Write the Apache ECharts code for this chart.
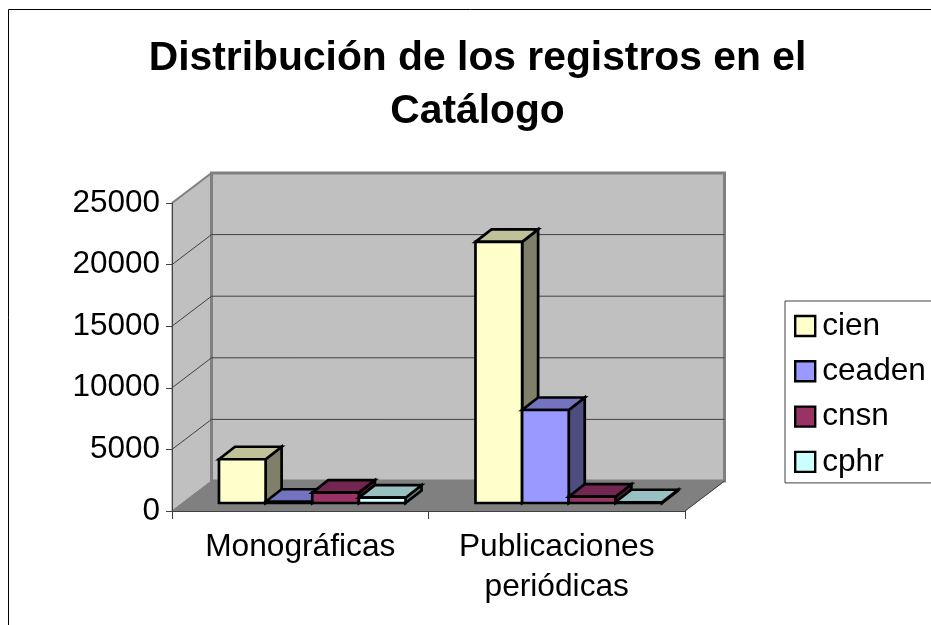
<!DOCTYPE html>
<html>
<head>
<meta charset="utf-8">
<title>Distribución de los registros en el Catálogo</title>
<script src="https://cdn.jsdelivr.net/npm/echarts@6/dist/echarts.min.js"></script>
<style>
  html, body { margin: 0; padding: 0; background: #fff; }
  #chart { width: 931px; height: 625px; }
</style>
</head>
<body>
<div id="chart"></div>
<script>
// Values
const categories = ['Monográficas', 'Publicaciones\nperiódicas'];
const cien = [3550, 21200];
const ceaden = [100, 7550];
const cnsn = [840, 510];
const cphr = [430, 60];
const yTicks = [5000, 10000, 15000, 20000, 25000];

const seriesNames = ['cien', 'ceaden', 'cnsn', 'cphr'];
const seriesValues = [cien, ceaden, cnsn, cphr];
// front, top and side face of each bar
const faces = [
  ['#FFFFCC', '#C0C099', '#80806A'],
  ['#9999FF', '#7373C0', '#4D4D80'],
  ['#993366', '#732650', '#4D1A33'],
  ['#CCFFFF', '#99C0C0', '#668080'],
];

const FONT = '"Liberation Sans", Arial, sans-serif';
const WALL_DX = 39.5, WALL_DY = -30;
const BAR_DX = 16, BAR_DY = -12.5;
const INSET_DX = 12, INSET_DY = -8;
const BAR_RATIO = 1 / 5.5;

const chart = echarts.init(document.getElementById('chart'));

function poly(points, fill, stroke, lineWidth) {
  return {
    type: 'polygon',
    shape: { points },
    style: { fill, stroke, lineWidth, lineJoin: 'miter' },
  };
}

function renderWalls(params, api) {
  const a = api.coord([0, 25000]);
  const o = api.coord([0, 0]);
  const band = api.size([1, 0])[0];
  const left = a[0] - band / 2;
  const right = left + band * categories.length;
  const top = a[1], base = o[1];
  const bx = left + WALL_DX, by = WALL_DY;
  return {
    type: 'group',
    children: [
      poly([[left, top], [bx, top + by], [bx, base + by], [left, base]], '#C0C0C0', '#808080', 1),
      poly([[bx, top + by], [right + WALL_DX, top + by], [right + WALL_DX, base + by], [bx, base + by]], '#C0C0C0', '#808080', 3),
      poly([[left, base], [bx, base + by], [right + WALL_DX, base + by], [right, base]], '#808080', '#808080', 1),
      { type: 'line', shape: { x1: left, y1: top, x2: bx, y2: top + by }, style: { stroke: '#808080', lineWidth: 2 } },
      { type: 'line', shape: { x1: right, y1: base, x2: right + WALL_DX, y2: base + by }, style: { stroke: '#404040', lineWidth: 1 } },
    ],
  };
}

function renderGridline(params, api) {
  const p = api.coord([0, api.value(1)]);
  const band = api.size([1, 0])[0];
  const left = p[0] - band / 2;
  const right = left + band * categories.length;
  const y = p[1];
  const isTop = api.value(1) === 25000;
  if (isTop) return { type: 'group', children: [] };
  return {
    type: 'polyline',
    shape: { points: [[left, y], [left + WALL_DX, y + WALL_DY], [right + WALL_DX, y + WALL_DY]] },
    style: { fill: null, stroke: '#404040', lineWidth: 1 },
  };
}

function makeBarRenderer(idx) {
  return function (params, api) {
    const cat = api.value(0);
    const top = api.coord([cat, api.value(1)]);
    const base = api.coord([cat, 0]);
    const band = api.size([1, 0])[0];
    const w = band * BAR_RATIO;
    const x0 = top[0] - 2 * w + INSET_DX + idx * w;
    const x1 = x0 + w;
    const y0 = base[1] + INSET_DY;
    const y1 = top[1] + INSET_DY;
    const c = faces[idx];
    return {
      type: 'group',
      children: [
        poly([[x1, y0], [x1 + BAR_DX, y0 + BAR_DY], [x1 + BAR_DX, y1 + BAR_DY], [x1, y1]], c[2], '#000', 2.7),
        poly([[x0, y1], [x0 + BAR_DX, y1 + BAR_DY], [x1 + BAR_DX, y1 + BAR_DY], [x1, y1]], c[1], '#000', 2.7),
        poly([[x0, y0], [x1, y0], [x1, y1], [x0, y1]], c[0], '#000', 2.7),
      ],
    };
  };
}

const barSeries = seriesNames.map((name, i) => ({
  name,
  type: 'custom',
  renderItem: makeBarRenderer(i),
  itemStyle: { color: faces[i][0] },
  encode: { x: 0, y: 1 },
  data: seriesValues[i].map((v, k) => [k, v]),
  z: 4,
}));

chart.setOption({
  backgroundColor: '#fff',
  animation: false,
  textStyle: { fontFamily: FONT },
  title: {
    text: 'Distribución de los registros en el\nCatálogo',
    left: 472.5,
    top: 27,
    textAlign: 'center',
    textStyle: { fontFamily: FONT, fontSize: 40.8, fontWeight: 'bold', color: '#000', lineHeight: 53 },
  },
  legend: {
    orient: 'vertical',
    left: 785,
    top: 301,
    data: seriesNames,
    icon: 'rect',
    itemWidth: 20,
    itemHeight: 20,
    itemGap: 13.3,
    padding: [9, 20, 5, 9],
    borderColor: '#404040',
    borderWidth: 1,
    itemStyle: { borderColor: '#000', borderWidth: 2.4 },
    textStyle: { fontFamily: FONT, fontSize: 31.6, color: '#000', padding: [0, 0, 0, 2] },
  },
  grid: { left: 172, top: 203, width: 513, height: 308 },
  xAxis: {
    type: 'category',
    data: categories,
    z: 5,
    axisLine: { show: true, lineStyle: { color: '#404040', width: 1 } },
    axisTick: { show: true, length: 8, lineStyle: { color: '#404040' } },
    axisLabel: { fontFamily: FONT, fontSize: 31.7, color: '#000', lineHeight: 40, margin: 16, interval: 0 },
    splitLine: { show: false },
  },
  yAxis: {
    type: 'value',
    min: 0,
    max: 25000,
    interval: 5000,
    z: 5,
    axisLine: { show: true, lineStyle: { color: '#404040', width: 1 } },
    axisTick: { show: true, length: 6, lineStyle: { color: '#404040' } },
    axisLabel: { fontFamily: FONT, fontSize: 31.5, color: '#000', margin: 12, formatter: (v) => String(v) },
    splitLine: { show: false },
  },
  graphic: [{
    type: 'rect',
    shape: { x: 8.5, y: 9.5, width: 1000, height: 700 },
    style: { fill: null, stroke: '#000', lineWidth: 1 },
    silent: true,
  }],
  series: [
    { name: 'walls', type: 'custom', renderItem: renderWalls, data: [[0, 0]], encode: { x: 0, y: 1 }, silent: true, z: 2 },
    { name: 'gridlines', type: 'custom', renderItem: renderGridline, data: yTicks.map((v) => [0, v]), encode: { x: 0, y: 1 }, silent: true, z: 3 },
    ...barSeries,
  ],
});
</script>
</body>
</html>
